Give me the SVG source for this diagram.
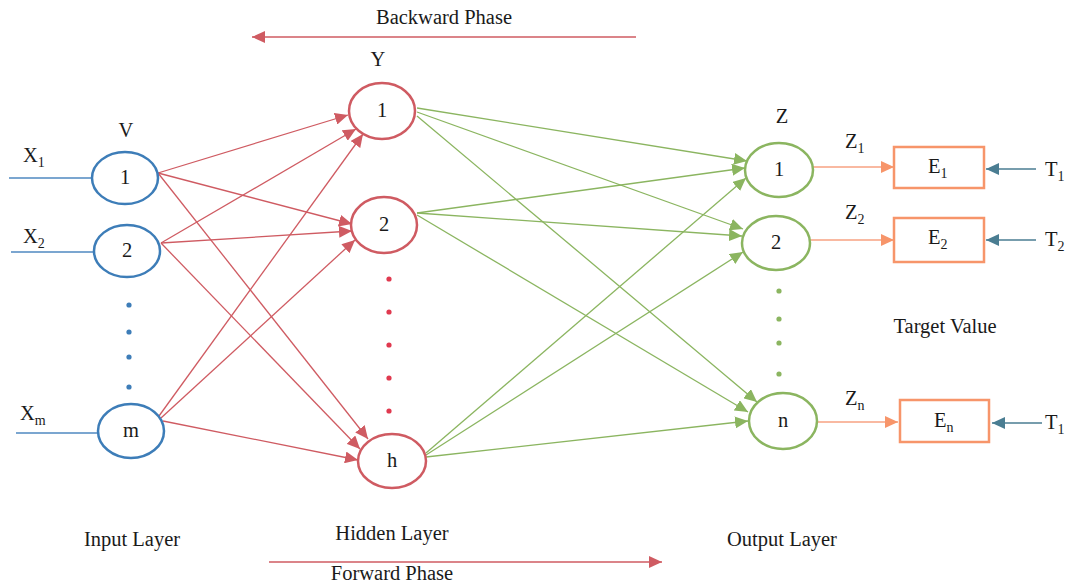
<svg xmlns="http://www.w3.org/2000/svg" width="1071" height="586" viewBox="0 0 1071 586">
<style>
text{font-family:"Liberation Serif","Times New Roman",serif;font-size:20.5px;fill:#1a1a1a}
.c{text-anchor:middle}
.sub{font-size:14px}
.in{fill:#fff;stroke:#3d7db8;stroke-width:2.5}
.hid{fill:#fff;stroke:#cf5b62;stroke-width:2.5}
.out{fill:#fff;stroke:#8bb560;stroke-width:2.5}
.box{fill:#fff;stroke:#f7956a;stroke-width:2.5}
.r{stroke:#cf5b62;stroke-width:1.3;fill:none;marker-end:url(#ar)}
.g{stroke:#8bb560;stroke-width:1.3;fill:none;marker-end:url(#ag)}
.o{stroke:#f7a282;stroke-width:1.5;fill:none;marker-end:url(#ao)}
.t{stroke:#4a7d92;stroke-width:1.5;fill:none;marker-end:url(#at)}
.bl{stroke:#4f88c0;stroke-width:1.5;fill:none}
</style>
<defs>
<marker id="ar" markerUnits="userSpaceOnUse" markerWidth="14" markerHeight="12" refX="13" refY="6" orient="auto"><path d="M0,0 L13,6 L0,12 Z" fill="#cf5b62"/></marker>
<marker id="ag" markerUnits="userSpaceOnUse" markerWidth="14" markerHeight="12" refX="13" refY="6" orient="auto"><path d="M0,0 L13,6 L0,12 Z" fill="#8bb560"/></marker>
<marker id="ao" markerUnits="userSpaceOnUse" markerWidth="14" markerHeight="12" refX="13" refY="6" orient="auto"><path d="M0,0 L13,6 L0,12 Z" fill="#f7956a"/></marker>
<marker id="at" markerUnits="userSpaceOnUse" markerWidth="14" markerHeight="12" refX="13" refY="6" orient="auto"><path d="M0,0 L13,6 L0,12 Z" fill="#4a7d92"/></marker>
</defs>

<g id="phase-labels">
<text class="c" x="444" y="24">Backward Phase</text>
<text class="c" x="392" y="580">Forward Phase</text>
<text class="c" x="132" y="546">Input Layer</text>
<text class="c" x="392" y="540">Hidden Layer</text>
<text class="c" x="782" y="546">Output Layer</text>
<text class="c" x="945" y="333">Target Value</text>
<text class="c" x="126" y="137">V</text>
<text class="c" x="378" y="66">Y</text>
<text class="c" x="782" y="123">Z</text>
</g>

<g id="connectors">
<line class="r" x1="636" y1="37" x2="252" y2="37"/>
<line class="r" x1="269" y1="562" x2="662" y2="562"/>
<line class="bl" x1="9" y1="178" x2="92" y2="178"/>
<line class="bl" x1="11" y1="252" x2="94" y2="252"/>
<line class="bl" x1="16" y1="433" x2="98" y2="433"/>
<line class="r" x1="158" y1="173" x2="348" y2="115"/>
<line class="r" x1="158" y1="173" x2="352" y2="224"/>
<line class="r" x1="158" y1="173" x2="368" y2="439"/>
<line class="r" x1="161" y1="243" x2="356" y2="129"/>
<line class="r" x1="161" y1="243" x2="352" y2="231"/>
<line class="r" x1="161" y1="243" x2="360" y2="449"/>
<line class="r" x1="159" y1="416" x2="363" y2="134"/>
<line class="r" x1="161" y1="418" x2="355" y2="240"/>
<line class="r" x1="163" y1="421" x2="358" y2="460"/>
<line class="g" x1="417" y1="108" x2="747" y2="161"/>
<line class="g" x1="417" y1="112" x2="743" y2="229"/>
<line class="g" x1="417" y1="116" x2="757" y2="402"/>
<line class="g" x1="417" y1="213" x2="745" y2="168"/>
<line class="g" x1="417" y1="213" x2="742" y2="236"/>
<line class="g" x1="417" y1="215" x2="748" y2="412"/>
<line class="g" x1="426" y1="453" x2="746" y2="178"/>
<line class="g" x1="426" y1="455" x2="743" y2="252"/>
<line class="g" x1="426" y1="457" x2="748" y2="421"/>
<line class="o" x1="813" y1="167" x2="894" y2="167"/>
<line class="o" x1="810" y1="240" x2="894" y2="240"/>
<line class="o" x1="817" y1="422" x2="898" y2="422"/>
<line class="t" x1="1036" y1="169" x2="986" y2="169"/>
<line class="t" x1="1036" y1="240" x2="986" y2="240"/>
<line class="t" x1="1042" y1="423" x2="992" y2="423"/>
</g>

<g id="input-labels">
<text x="23" y="162">X<tspan class="sub" dy="5">1</tspan></text>
<text x="23" y="243">X<tspan class="sub" dy="5">2</tspan></text>
<text x="20" y="420">X<tspan class="sub" dy="5">m</tspan></text>
</g>

<g id="v1"><ellipse class="in" cx="125" cy="178" rx="33" ry="26"/><text class="c" x="125" y="184">1</text></g>
<g id="v2"><ellipse class="in" cx="127" cy="251" rx="33" ry="26"/><text class="c" x="127" y="257">2</text></g>
<g id="vm"><ellipse class="in" cx="131" cy="431" rx="33" ry="27"/><text class="c" x="131" y="437">m</text></g>
<g id="input-dots" fill="#3d7db8">
<circle cx="129" cy="305" r="2.6"/><circle cx="129" cy="332" r="2.6"/><circle cx="129" cy="357" r="2.6"/><circle cx="129" cy="387" r="2.6"/>
</g>

<g id="y1"><ellipse class="hid" cx="382" cy="111" rx="33" ry="28"/><text class="c" x="382" y="117">1</text></g>
<g id="y2"><ellipse class="hid" cx="384" cy="225" rx="33" ry="28"/><text class="c" x="384" y="231">2</text></g>
<g id="yh"><ellipse class="hid" cx="392" cy="461" rx="34" ry="27"/><text class="c" x="392" y="467">h</text></g>
<g id="hidden-dots" fill="#e0394f">
<circle cx="389" cy="279" r="2.6"/><circle cx="389" cy="312" r="2.6"/><circle cx="389" cy="345" r="2.6"/><circle cx="389" cy="378" r="2.6"/><circle cx="389" cy="411" r="2.6"/>
</g>

<g id="z1"><ellipse class="out" cx="779" cy="170" rx="34" ry="27"/><text class="c" x="779" y="176">1</text></g>
<g id="z2"><ellipse class="out" cx="776" cy="243" rx="34" ry="27"/><text class="c" x="776" y="249">2</text></g>
<g id="zn"><ellipse class="out" cx="783" cy="421" rx="34" ry="28"/><text class="c" x="783" y="427">n</text></g>
<g id="output-dots" fill="#8bb560">
<circle cx="779" cy="291" r="2.6"/><circle cx="779" cy="319" r="2.6"/><circle cx="779" cy="343" r="2.6"/><circle cx="779" cy="374" r="2.6"/>
</g>

<g id="output-labels">
<text x="845" y="148">Z<tspan class="sub" dy="5">1</tspan></text>
<text x="845" y="219">Z<tspan class="sub" dy="5">2</tspan></text>
<text x="845" y="405">Z<tspan class="sub" dy="5">n</tspan></text>
</g>

<g id="e1"><rect class="box" x="894" y="147" width="90" height="41"/><text x="928" y="173">E<tspan class="sub" dy="5">1</tspan></text></g>
<g id="e2"><rect class="box" x="894" y="218" width="90" height="44"/><text x="928" y="244">E<tspan class="sub" dy="5">2</tspan></text></g>
<g id="en"><rect class="box" x="900" y="400" width="89" height="42"/><text x="934" y="427">E<tspan class="sub" dy="5">n</tspan></text></g>

<g id="targets">
<text x="1045" y="176">T<tspan class="sub" dy="5">1</tspan></text>
<text x="1045" y="246">T<tspan class="sub" dy="5">2</tspan></text>
<text x="1045" y="429">T<tspan class="sub" dy="5">1</tspan></text>
</g>
</svg>
